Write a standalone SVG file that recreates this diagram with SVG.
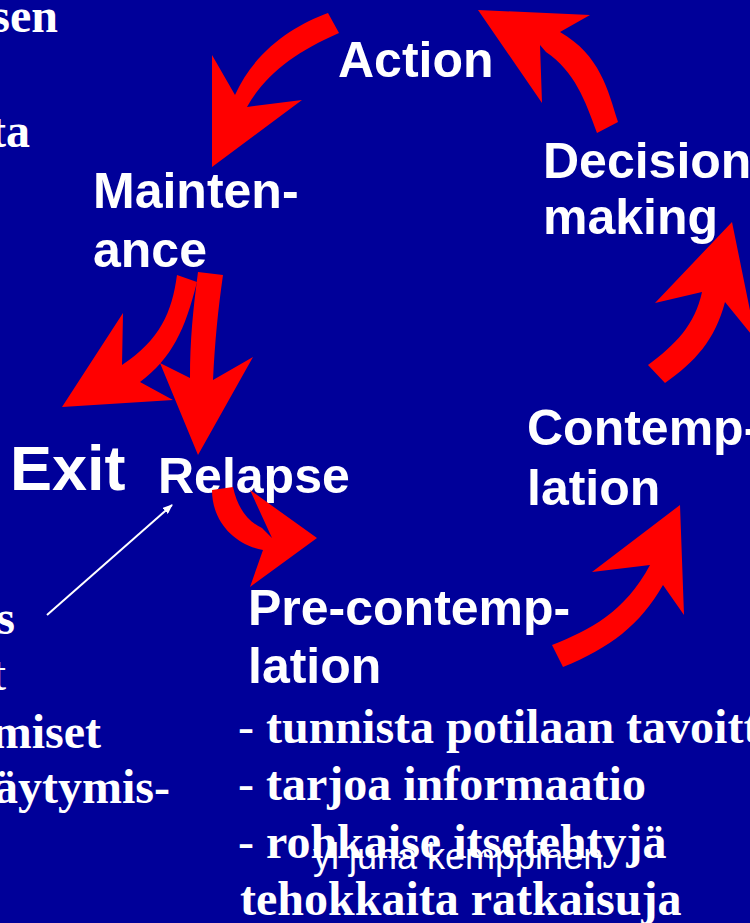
<svg xmlns="http://www.w3.org/2000/svg" width="750" height="923" viewBox="0 0 750 923">
  <style>
    .lbl { font-family: "Liberation Sans", Arial, sans-serif; font-weight: bold; font-size: 50px; fill: #ffffff; }
    .body { font-family: "Liberation Serif", "Times New Roman", serif; font-weight: bold; font-size: 48px; fill: #ffffff; }
    .dash { font-weight: normal; }
    .mark { font-family: "Liberation Sans", Arial, sans-serif; font-size: 36px; fill: #ffffff; }
    .arrow { fill: #ff0000; stroke: none; }
  </style>
  <defs>
    <marker id="whiteHead" markerWidth="10" markerHeight="8" refX="9" refY="4" orient="auto" markerUnits="userSpaceOnUse" viewBox="0 0 10 8">
      <path d="M0,0 L10,4 L0,8 Z" fill="#ffffff"/>
    </marker>
  </defs>

  <rect x="0" y="0" width="750" height="923" fill="#000099"/>

  <!-- text running in from the left edge -->
  <g id="side-text" class="body" text-anchor="end">
    <text x="58" y="32">sen</text>
    <text x="30" y="147">ta</text>
    <text x="15" y="634">s</text>
    <text x="6" y="690" style="font-weight:normal">t</text>
    <text x="101" y="748">miset</text>
    <text x="170" y="803">äytymis-</text>
  </g>

  <!-- stages of change -->
  <g id="action"><text class="lbl" x="338" y="77">Action</text></g>
  <g id="decision"><text class="lbl" x="543" y="178">Decision</text><text class="lbl" x="543" y="234">making</text></g>
  <g id="maintenance"><text class="lbl" x="93" y="208">Mainten-</text><text class="lbl" x="93" y="267">ance</text></g>
  <g id="exit"><text class="lbl" x="10" y="490" style="font-size:63px">Exit</text></g>
  <g id="relapse"><text class="lbl" x="158" y="493">Relapse</text></g>
  <g id="contemplation"><text class="lbl" x="527" y="445">Contemp-</text><text class="lbl" x="527" y="505">lation</text></g>
  <g id="precontemplation"><text class="lbl" x="248" y="625">Pre-contemp-</text><text class="lbl" x="248" y="683">lation</text></g>

  <g id="precontemplation-notes" class="body">
    <text x="238" y="743"><tspan class="dash">- </tspan>tunnista potilaan tavoitt</text>
    <text x="238" y="800"><tspan class="dash">- </tspan>tarjoa informaatio</text>
    <text x="238" y="858"><tspan class="dash">- </tspan>rohkaise itsetehtyjä</text>
    <text x="240" y="915">tehokkaita ratkaisuja</text>
  </g>

  <!-- connectors: curved block arrows around the cycle -->
  <g id="connectors">
    <!-- Action to Maintenance -->
    <path class="arrow" d="M328,13 C295,25 255,50 235,95 L212,55 L212,167 L302,100 L247,107 C265,75 295,52 339,33 Z"/>
    <!-- Decision making to Action -->
    <path class="arrow" d="M618,122 C608,90 600,55 560,32 L590,15 L478,10 L542,103 L540,45 L546,52 C575,72 585,100 597,133 Z"/>
    <!-- Contemplation to Decision making -->
    <path class="arrow" d="M648,365 C675,345 695,325 702,292 L655,303 L732,222 L756,340 L725,302 C715,340 695,362 665,383 Z"/>
    <!-- Pre-contemplation to Contemplation -->
    <path class="arrow" d="M552,645 C590,630 625,612 650,565 L592,572 L680,505 L684,615 L663,585 C640,625 610,648 563,667 Z"/>
    <!-- Relapse to Pre-contemplation -->
    <path class="arrow" d="M212,490 C212,522 235,545 263,550 L250,587 L317,538 L250,490 L272,538 L262,528 C245,520 237,505 233,487 Z"/>
    <!-- Maintenance to Exit -->
    <path class="arrow" d="M177,275 C172,312 160,340 122,365 L123,313 L62,407 L173,400 L140,382 C172,358 185,330 197,282 Z"/>
    <!-- Maintenance to Relapse -->
    <path class="arrow" d="M198,272 C193,310 190,340 190,378 L160,363 L198,455 L253,357 L213,380 C215,340 218,310 223,275 Z"/>
    <!-- note pointer to Relapse -->
    <line x1="47" y1="615" x2="172" y2="505" stroke="#ffffff" stroke-width="2" marker-end="url(#whiteHead)"/>
  </g>

  <g id="footer"><text class="mark" x="313" y="869">yl juha kemppinen</text></g>
</svg>
